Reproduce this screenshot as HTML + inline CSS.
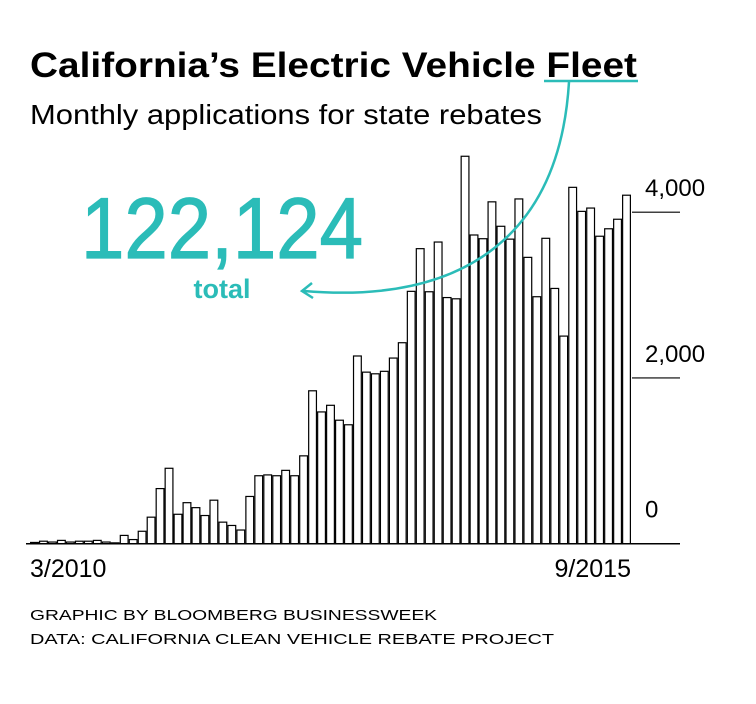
<!DOCTYPE html>
<html><head><meta charset="utf-8"><style>
html,body{margin:0;padding:0;background:#fff;}
svg{display:block;font-family:"Liberation Sans",sans-serif;}
</style></head><body>
<svg id="chart" width="756" height="704" viewBox="0 0 756 704" xmlns="http://www.w3.org/2000/svg">
<rect width="756" height="704" fill="#fff"/>
<text x="30" y="77" font-size="35" font-weight="bold" fill="#000" textLength="607" lengthAdjust="spacingAndGlyphs">California’s Electric Vehicle Fleet</text>
<line x1="544" y1="81" x2="638" y2="81" stroke="#2bbcb8" stroke-width="2.5"/>
<text x="30" y="124" font-size="28" fill="#000" textLength="512" lengthAdjust="spacingAndGlyphs">Monthly applications for state rebates</text>
<g id="bars"></g>
<g id="axes"></g>
<path d="M569,82 C560,230 470,305 304,291" fill="none" stroke="#2bbcb8" stroke-width="2.5"/>
<path d="M312,283 L302,291 L313,298" fill="none" stroke="#2bbcb8" stroke-width="2.5"/>
<text x="81" y="258" font-size="86" fill="#2bbcb8" stroke="#2bbcb8" stroke-width="1.2" textLength="282" lengthAdjust="spacingAndGlyphs">122,124</text>
<text x="222" y="298" font-size="27" font-weight="bold" fill="#2bbcb8" text-anchor="middle">total</text>
<text x="30" y="620" font-size="15" fill="#000" textLength="407" lengthAdjust="spacingAndGlyphs">GRAPHIC BY BLOOMBERG BUSINESSWEEK</text>
<text x="30" y="644" font-size="15" fill="#000" textLength="524" lengthAdjust="spacingAndGlyphs">DATA: CALIFORNIA CLEAN VEHICLE REBATE PROJECT</text>
</svg>
<script>
const values = [15,30,20,40,20,30,30,40,20,10,100,50,150,320,665,910,355,495,435,340,525,260,220,165,570,820,830,820,885,820,1060,1845,1590,1670,1490,1435,2265,2070,2050,2080,2240,2425,3045,3560,3040,3640,2970,2955,4675,3725,3680,4125,3830,3675,4160,3455,2980,3685,3080,2505,4300,4010,4050,3710,3800,3915,4205];
const yTicks = [0,2000,4000];
const yTickLabels = ["0","2,000","4,000"];
const xLabels = ["3/2010","9/2015"];

const NS="http://www.w3.org/2000/svg";
const x0=30, bw=8.97, baseY=543.7, pxPer=331.5/4000;
const yScale=v=>baseY-v*pxPer;
const xScale=i=>x0+i*bw;
const bars=document.getElementById('bars');
values.forEach((v,i)=>{
  const r=document.createElementNS(NS,'rect');
  r.setAttribute('x',xScale(i)+0.6);
  r.setAttribute('y',yScale(v));
  r.setAttribute('width',bw-1.2);
  r.setAttribute('height',Math.max(0.5,baseY-yScale(v)));
  r.setAttribute('fill','#fff');
  r.setAttribute('stroke','#000');
  r.setAttribute('stroke-width','1.2');
  
  
  bars.appendChild(r);
});
const axes=document.getElementById('axes');
const base=document.createElementNS(NS,'line');
base.setAttribute('x1',26);base.setAttribute('x2',680);
base.setAttribute('y1',baseY);base.setAttribute('y2',baseY);
base.setAttribute('stroke','#000');base.setAttribute('stroke-width','1.5');


axes.appendChild(base);
yTicks.forEach((t,i)=>{
  const y=yScale(t);
  if(t>0){
    const l=document.createElementNS(NS,'line');
    l.setAttribute('x1',632);l.setAttribute('x2',680);
    l.setAttribute('y1',y);l.setAttribute('y2',y);
    l.setAttribute('stroke','#000');l.setAttribute('stroke-width','1.2');
    
    
    axes.appendChild(l);
  }
  const tx=document.createElementNS(NS,'text');
  tx.setAttribute('x',645);tx.setAttribute('y',t===0?y-26:y-16);
  tx.setAttribute('font-size','24');
  tx.textContent=yTickLabels[i];
  
  
  axes.appendChild(tx);
});
xLabels.forEach((s,i)=>{
  const tx=document.createElementNS(NS,'text');
  tx.setAttribute('x',i===0?xScale(0):xScale(values.length));
  tx.setAttribute('y',577);
  tx.setAttribute('font-size','25');
  tx.setAttribute('text-anchor',i===0?'start':'end');
  tx.textContent=s;
  
  
  axes.appendChild(tx);
});
</script>
</body></html>
